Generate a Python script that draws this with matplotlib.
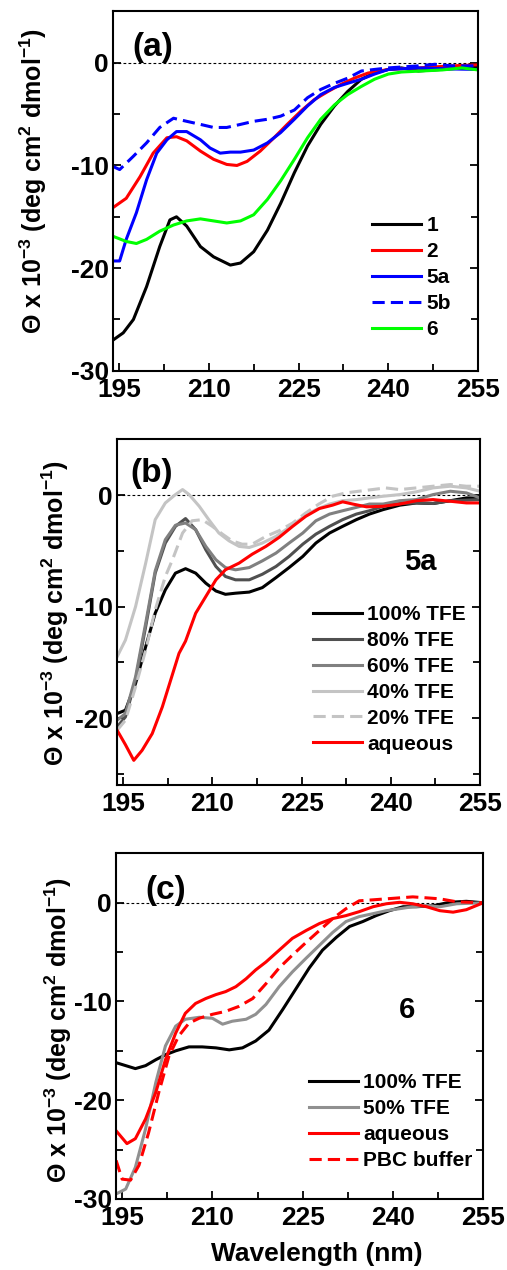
import matplotlib
matplotlib.use('Agg')
import matplotlib.pyplot as plt
from matplotlib.ticker import MultipleLocator

plt.rcParams['font.family'] = ['Liberation Sans', 'DejaVu Sans']
plt.rcParams['font.weight'] = 'bold'
plt.rcParams['mathtext.fontset'] = 'custom'
plt.rcParams['mathtext.rm'] = 'Liberation Sans:bold'
plt.rcParams['mathtext.it'] = 'Liberation Sans:bold'
plt.rcParams['mathtext.bf'] = 'Liberation Sans:bold'
plt.rcParams['axes.unicode_minus'] = False

# ---- panel (a) ----
a1_wl = [194, 195.7, 197.4, 199.6, 201.8, 203.5, 204.6, 206.3, 208.6, 210.8, 213.6, 215.3, 217.5, 219.8, 222,
         224.3, 226.5, 228.7, 231, 233.2, 235.5, 237.7, 240, 242.2, 245, 250, 255]
a1_th = [-27.0, -26.3, -25.0, -21.8, -17.9, -15.3, -15.0, -15.9, -17.9, -18.9, -19.7, -19.5, -18.4, -16.3, -13.7,
         -10.7, -8.1, -6.0, -4.2, -2.8, -1.6, -1.0, -0.65, -0.5, -0.8, -0.6, -0.4]
a2_wl = [194, 196.2, 198.5, 200.7, 203, 204.6, 206.3, 208.6, 210.8, 213, 214.7, 216.4, 218.6, 220.9,
         223.1, 225.4, 227.6, 229.9, 232.1, 234.3, 236.6, 240, 245, 250.6, 255]
a2_th = [-14.1, -13.2, -11.1, -8.8, -7.3, -7.2, -7.6, -8.6, -9.4, -9.9, -10.0, -9.6, -8.6, -7.3,
         -6.0, -4.7, -3.6, -2.8, -2.1, -1.5, -1.0, -0.65, -0.5, -0.3, -0.2]
a5a_wl = [194, 195.1, 196.2, 197.9, 199.6, 201.3, 203, 204.6, 206.3, 208.6, 210.2, 211.9, 213.6, 215.3,
          217.5, 219.8, 222, 224.3, 226.5, 228.7, 231, 233.2, 235.5, 237.7, 240, 245, 250.6, 255]
a5a_th = [-19.3, -19.3, -17.2, -14.6, -11.4, -8.8, -7.5, -6.7, -6.7, -7.5, -8.3, -8.8, -8.7, -8.7,
          -8.5, -7.8, -6.8, -5.5, -4.2, -3.1, -2.4, -2.0, -1.6, -1.1, -0.65, -0.5, -0.6, -0.65]
a5b_wl = [194, 195.1, 197.4, 199.6, 201.8, 204.1, 206.3, 208.6, 210.8, 213, 215.3, 217.5, 219.8, 222,
          224.3, 226.5, 228.7, 231, 233.2, 235.5, 237.7, 240, 245, 247.8, 250.6, 255]
a5b_th = [-10.1, -10.4, -9.1, -7.8, -6.3, -5.4, -5.7, -6.0, -6.3, -6.3, -6.0, -5.7, -5.5, -5.2,
          -4.6, -3.4, -2.6, -2.0, -1.5, -0.8, -0.65, -0.5, -0.3, -0.15, -0.3, -0.3]
a6_wl = [194, 196.2, 197.9, 199.6, 201.8, 204.1, 206.3, 208.6, 210.8, 213, 215.3, 217.5, 219.8, 222,
         224.3, 226.5, 228.7, 231, 233.2, 235.5, 237.7, 240, 242.2, 245.6, 249, 252.3, 255]
a6_th = [-16.9, -17.4, -17.6, -17.2, -16.4, -15.8, -15.4, -15.2, -15.4, -15.6, -15.4, -14.8, -13.3, -11.5,
         -9.4, -7.3, -5.5, -4.1, -3.1, -2.3, -1.6, -1.1, -0.9, -0.8, -0.7, -0.5, -0.7]

# ---- panel (b) : 5a ----
b_wl = [194, 195.4, 197.1, 198.8, 200.4, 202.1, 203.8, 205.5, 207.2, 208.9, 210.6, 212.2, 213.9, 216.2,
        218.4, 220.7, 222.9, 225.2, 227.4, 229.7, 231.9, 234.2, 236.4, 238.7, 241.5, 244.3, 247.1, 250,
        252.7, 255]
b100_th = [-19.6, -19.3, -16.9, -13.6, -10.6, -8.5, -7.0, -6.6, -7.0, -7.9, -8.6, -8.9, -8.8, -8.7,
           -8.3, -7.4, -6.5, -5.5, -4.3, -3.4, -2.8, -2.2, -1.7, -1.3, -0.9, -0.7, -0.75, -0.5,
           -0.25, -0.25]
b80_th = [-20.8, -19.9, -16.6, -11.8, -7.0, -4.3, -2.8, -2.1, -3.1, -4.9, -6.4, -7.3, -7.6, -7.6,
          -7.1, -6.4, -5.5, -4.4, -3.5, -2.8, -2.2, -1.7, -1.4, -1.0, -0.75, -0.7, -0.75, -0.5,
          -0.45, -0.4]
b60_th = [-20.2, -19.6, -16.3, -11.5, -6.8, -4.0, -2.7, -2.5, -3.1, -4.6, -5.8, -6.5, -6.7, -6.5,
          -5.9, -5.2, -4.3, -3.4, -2.3, -1.7, -1.4, -1.1, -0.8, -0.8, -0.5, -0.4, 0.05, 0.35,
          0.2, -0.25]
b40_wl = [194, 195.4, 197.1, 198.8, 200.4, 202.1, 203.8, 205, 206.1, 207.8, 209.4, 211.1, 212.8, 214.5,
          216.2, 218.4, 220.7, 222.9, 225.2, 227.4, 229.7, 231.9, 234.2, 236.4, 238.7, 241.5, 244.3,
          247.1, 250, 252.7, 255]
b40_th = [-14.5, -13.0, -10.0, -6.1, -2.2, -0.7, 0.05, 0.5, 0.05, -1.0, -2.2, -3.4, -4.1, -4.6,
          -4.7, -4.3, -3.7, -2.9, -2.0, -1.3, -0.8, -0.5, -0.4, -0.25, -0.1, 0.05, 0.3,
          0.65, 0.8, 0.65, 0.35]
b20_wl = [194, 195.4, 197.1, 198.8, 200.4, 202.1, 203.3, 205, 206.6, 208.3, 210, 211.7, 213.3, 215,
          216.7, 219, 221.2, 223.5, 225.7, 227.9, 230.2, 232.4, 234.6, 236.9, 239.1, 241.5, 244.3,
          247.1, 250, 252.7, 255]
b20_th = [-21.1, -20.2, -17.2, -13.9, -10.3, -7.3, -5.8, -3.4, -2.3, -2.2, -2.8, -3.5, -4.1, -4.4,
          -4.4, -3.7, -3.2, -2.5, -1.6, -0.8, -0.1, 0.2, 0.35, 0.5, 0.65, 0.5, 0.65,
          0.8, 0.95, 0.8, 0.8]
baq_wl = [194, 195.4, 196.8, 198.2, 199.9, 201.6, 203, 204.4, 205.5, 207.2, 208.9, 210.6, 212.2, 214.5,
          216.7, 219, 221.2, 223.5, 225.7, 228, 230.2, 231.9, 233.6, 235.9, 238.7, 241.5, 244.3,
          247.1, 250, 252.7, 255]
baq_th = [-21.1, -22.4, -23.8, -22.9, -21.4, -19.0, -16.6, -14.2, -13.1, -10.6, -9.1, -7.6, -6.7, -6.1,
          -5.3, -4.6, -3.8, -2.8, -1.9, -1.2, -0.9, -0.6, -0.8, -1.05, -1.0, -0.8, -0.5,
          -0.4, -0.55, -0.7, -0.7]

# ---- panel (c) : 6 ----
c_wl = [194, 195.6, 197.2, 198.9, 200.6, 202.2, 203.9, 206.1, 208.3, 210.6, 212.8, 215, 217.2, 219.4,
        221.7, 223.9, 226.1, 228.3, 230.6, 232.8, 235, 237.2, 239.4, 241.7, 243.9, 246.7, 249.4,
        252.2, 255]
c100_th = [-16.2, -16.5, -16.8, -16.5, -15.9, -15.4, -15.0, -14.6, -14.6, -14.7, -14.9, -14.7, -14.0, -12.9,
           -10.8, -8.7, -6.6, -4.8, -3.5, -2.4, -1.9, -1.3, -0.8, -0.4, -0.4, -0.3, 0.05,
           0.15, 0.0]
c50_wl = [194, 195.6, 197.2, 198.9, 200.6, 202.2, 203.9, 205.5, 207.8, 210, 211.7, 213.3, 215.6, 217.2,
          218.9, 221.1, 223.3, 225.6, 227.8, 230, 232.2, 234.4, 236.7, 238.9, 241.1, 243.3, 245.6,
          247.8, 250.6, 255]
c50_th = [-29.5, -29.0, -26.8, -22.9, -18.2, -14.5, -12.5, -11.8, -11.6, -11.7, -12.3, -12.0, -11.8, -11.3,
          -10.3, -8.5, -7.0, -5.6, -4.3, -3.0, -1.9, -1.4, -1.1, -0.8, -0.6, -0.4, -0.3,
          -0.4, -0.1, 0.0]
caq_wl = [194, 195.8, 197.2, 198.9, 200.6, 202.2, 203.9, 205.5, 207.2, 208.9, 210.6, 212.2, 213.9, 215.6,
          217.2, 218.9, 221.1, 223.3, 225.6, 227.8, 230, 232.2, 234.4, 236.7, 238.9, 241.1, 243.3,
          245.6, 247.8, 250, 252.2, 255]
caq_th = [-23.1, -24.4, -23.9, -21.9, -19.2, -15.9, -13.2, -11.2, -10.2, -9.7, -9.3, -9.0, -8.5, -7.7,
          -6.8, -6.0, -4.8, -3.6, -2.8, -2.1, -1.6, -1.3, -0.9, -0.4, -0.1, 0.05, -0.1,
          -0.4, -0.8, -0.95, -0.7, 0.0]
cpbc_wl = [194, 195, 196.4, 197.8, 199.4, 201.1, 202.8, 204.4, 206.1, 207.8, 210, 212.2, 214.4, 216.7,
           218.9, 221.1, 223.3, 225.6, 227.8, 230, 232.2, 234.4, 236.7, 238.9, 241.1, 243.3, 245.6,
           247.8, 250.6, 255]
cpbc_th = [-26.1, -28.0, -28.1, -26.6, -23.3, -19.2, -15.5, -13.5, -12.2, -11.7, -11.3, -11.0, -10.5, -9.7,
           -8.2, -6.6, -5.3, -4.0, -2.8, -1.6, -0.6, 0.2, 0.3, 0.4, 0.5, 0.6, 0.5,
           0.4, 0.1, 0.0]

LW = 2.2
W, H = 507, 1270
fig = plt.figure(figsize=(5.07, 12.7), dpi=100)
ax_a = fig.add_axes([0.223, 0.708, 0.720, 0.283])
ax_b = fig.add_axes([0.231, 0.382, 0.716, 0.272])
ax_c = fig.add_axes([0.229, 0.056, 0.724, 0.272])

ax_a.plot(a1_wl, a1_th, color='black', lw=LW, label='1')
ax_a.plot(a2_wl, a2_th, color='#ff0000', lw=LW, label='2')
ax_a.plot(a5a_wl, a5a_th, color='#0000ff', lw=LW, label='5a')
ax_a.plot(a5b_wl, a5b_th, color='#0000ff', lw=LW, dashes=(4, 2), label='5b')
ax_a.plot(a6_wl, a6_th, color='#00ff00', lw=LW, label='6')

ax_b.plot(b_wl, b100_th, color='black', lw=LW, label='100% TFE')
ax_b.plot(b_wl, b80_th, color='#505050', lw=LW, label='80% TFE')
ax_b.plot(b_wl, b60_th, color='#808080', lw=LW, label='60% TFE')
ax_b.plot(b40_wl, b40_th, color='#c4c4c4', lw=LW, label='40% TFE')
ax_b.plot(b20_wl, b20_th, color='#c4c4c4', lw=LW, dashes=(4, 2), label='20% TFE')
ax_b.plot(baq_wl, baq_th, color='#ff0000', lw=LW, label='aqueous')

ax_c.plot(c_wl, c100_th, color='black', lw=LW, label='100% TFE')
ax_c.plot(c50_wl, c50_th, color='#909090', lw=LW, label='50% TFE')
ax_c.plot(caq_wl, caq_th, color='#ff0000', lw=LW, label='aqueous')
ax_c.plot(cpbc_wl, cpbc_th, color='#ff0000', lw=LW, dashes=(4, 2), label='PBC buffer')

ylab = 'Θ x 10$^{-3}$ (deg cm$^{2}$ dmol$^{-1}$)'
# axes, ylim, tag, tag pos, legend anchor, ylabel centre (px)
setup = [(ax_a, (-30, 5), '(a)', (0.11, 0.90), (0.71, 0.43), (33, 181)),
         (ax_b, (-26, 5), '(b)', (0.096, 0.90), (0.54, 0.52), (55, 613)),
         (ax_c, (-30, 5), '(c)', (0.134, 0.893), (0.526, 0.363), (58, 1030))]
for ax, ylim, tag, tagpos, legpos, labpos in setup:
    ax.axhline(0, color='black', lw=0.8, dashes=(2.5, 2), zorder=0)
    ax.set_xlim(194, 255)
    ax.set_ylim(*ylim)
    ax.xaxis.set_major_locator(MultipleLocator(15))
    ax.xaxis.set_minor_locator(MultipleLocator(7.5))
    ax.yaxis.set_major_locator(MultipleLocator(10))
    ax.yaxis.set_minor_locator(MultipleLocator(5))
    ax.tick_params(which='both', direction='in', left=True, right=True, bottom=True, top=False,
                   width=1.3, labelsize=19)
    ax.tick_params(axis='x', which='both', pad=5)
    ax.tick_params(axis='y', which='both', pad=3)
    ax.tick_params(which='major', length=6)
    ax.tick_params(which='minor', length=5)
    for s in ax.spines.values():
        s.set_linewidth(1.5)
    fig.text(labpos[0] / W, 1 - labpos[1] / H, ylab, rotation=90, ha='center', va='center',
             fontsize=18, fontweight='bold')
    ax.text(tagpos[0], tagpos[1], tag, transform=ax.transAxes, ha='center', va='center',
            fontsize=24, fontweight='bold')
    ax.legend(loc='upper left', bbox_to_anchor=legpos, frameon=False, fontsize=15,
              handlelength=2.35, handletextpad=0.25, labelspacing=0.33, borderpad=0, borderaxespad=0)

ax_b.text(0.835, 0.646, '5a', transform=ax_b.transAxes, ha='center', va='center',
          fontsize=21, fontweight='bold')
ax_c.text(0.793, 0.546, '6', transform=ax_c.transAxes, ha='center', va='center',
          fontsize=21, fontweight='bold')
ax_c.set_xlabel('Wavelength (nm)', fontsize=19, fontweight='bold')
ax_c.xaxis.set_label_coords(0.548, -0.124)

fig.savefig('out.png', dpi=100)
